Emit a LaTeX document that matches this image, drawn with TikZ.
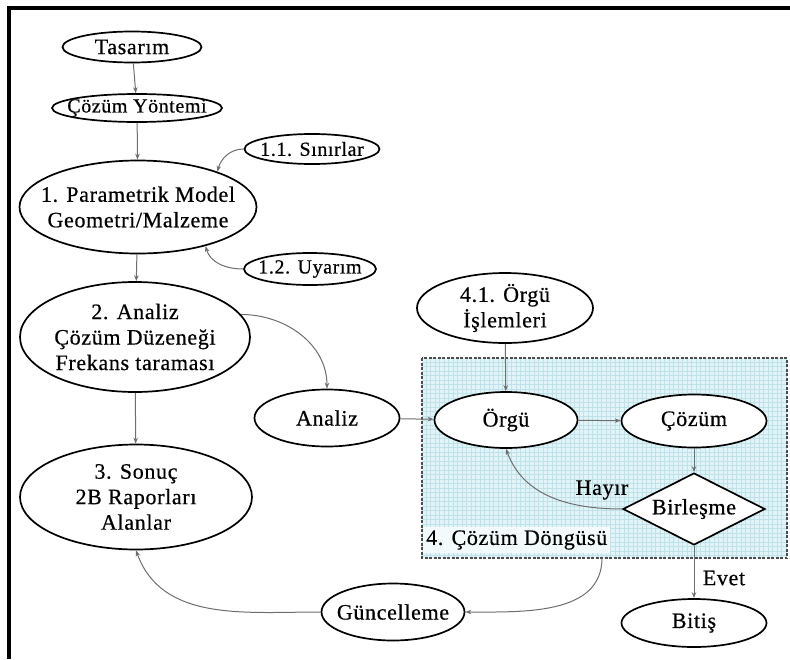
\documentclass[tikz,border=0pt]{standalone}
\usepackage{fontspec}
\setmainfont{Liberation Serif}[LetterSpace=3,FakeBold=0.5]
\usetikzlibrary{shapes.geometric,arrows.meta}
\definecolor{gridbg}{HTML}{E2F4F8}
\definecolor{gridln}{HTML}{BFE2EA}
\definecolor{connc}{HTML}{6E6E6E}
\definecolor{labelbg}{HTML}{F2FAFC}

\begin{document}
\begin{tikzpicture}[x=1pt,y=-1pt,
  txt/.style={font=\fontsize{22}{25.5}\selectfont},
  % negative inner sep keeps the oval at its given size
  oval/.style={ellipse,draw=black,line width=1.7pt,fill=white,inner xsep=-25pt,inner ysep=-12pt,align=center,txt},
  slimoval/.style={oval,font=\fontsize{20}{24}\selectfont},
  rhomb/.style={diamond,draw=black,line width=1.7pt,fill=white,inner sep=0pt,align=center,txt},
  conn/.style={draw=connc,line width=1pt,-{Stealth[length=6pt,width=4.5pt]}},
  lbl/.style={txt,inner sep=1pt}]
\useasboundingbox (0,0) rectangle (790,659);

% page frame: top and left rules
\draw[line width=4pt] (9,659) -- (9,8) -- (790,8);

% solution loop area with a fine grid
\fill[gridbg] (422,358) rectangle (787,558);
\foreach \gx in {426,430.5,...,786} \draw[gridln,line width=0.5pt] (\gx,358) -- (\gx,558);
\foreach \gy in {362,366.5,...,557} \draw[gridln,line width=0.5pt] (422,\gy) -- (787,\gy);
\draw[black!70,line width=1.2pt,dash pattern=on 3pt off 1.5pt] (422,358) rectangle (787,558);
\node[lbl,fill=labelbg,anchor=west,inner sep=3pt] (looplabel) at (423,540) {4. Çözüm Döngüsü};

% left column
\node[oval,minimum width=139pt,minimum height=31pt] (tasarim) at (132,47) {Tasarım};
\node[slimoval,minimum width=170pt,minimum height=28pt] (yontem) at (137,108) {Çözüm Yöntemi};
\node[oval,minimum width=237pt,minimum height=93pt] (param) at (138,207) {1. Parametrik Model\\Geometri/Malzeme};
\node[slimoval,minimum width=135pt,minimum height=30pt] (sinir) at (312,149) {1.1. Sınırlar};
\node[slimoval,minimum width=132pt,minimum height=32pt] (uyarim) at (310,269) {1.2. Uyarım};
\node[oval,minimum width=230pt,minimum height=110pt] (analiz2) at (135,337) {2. Analiz\\Çözüm Düzeneği\\Frekans taraması};
\node[oval,minimum width=232pt,minimum height=105pt] (sonuc) at (136,497) {3. Sonuç\\2B Raporları\\Alanlar};
\node[oval,minimum width=145pt,minimum height=57pt] (analiz) at (327,418) {Analiz};
\node[oval,minimum width=143pt,minimum height=57pt] (guncel) at (393,612) {Güncelleme};

% right part
\node[oval,minimum width=176pt,minimum height=70pt] (orguis) at (505,308) {4.1. Örgü\\İşlemleri};
\node[oval,minimum width=143pt,minimum height=56pt] (orgu) at (506,420) {Örgü};
\node[oval,minimum width=145pt,minimum height=53pt] (cozum) at (694,421) {Çözüm};
\node[rhomb,minimum width=142pt,minimum height=72pt,aspect=1.97] (birles) at (694,509) {Birleşme};
\node[oval,minimum width=145pt,minimum height=48pt] (bitis) at (694,623) {Bitiş};

% connectors
\draw[conn] (tasarim) -- (yontem);
\draw[conn] (yontem) -- (param);
\draw[conn] (sinir.west) to[out=180,in=75] (param.24);
\draw[conn] (uyarim.west) to[out=180,in=-75] (param.-30);
\draw[conn] (param) -- (analiz2);
\draw[conn] (analiz2.12) to[out=0,in=90] (analiz.north);
\draw[conn] (analiz2) -- (sonuc);
\draw[conn] (analiz) -- (orgu);
\draw[conn] (orguis) -- (orgu);
\draw[conn] (orgu) -- (cozum);
\draw[conn] (cozum) -- (birles);
\draw[conn] (birles.west) to[out=180,in=-70] (orgu.south);
\draw[conn] (birles) -- (bitis);
\coordinate (loopexit) at (602,558);
\draw[conn] (loopexit) to[out=-90,in=0] (guncel.east);
\draw[conn] (guncel.west) to[out=180,in=-70] (sonuc.south);

% branch labels
\node[lbl] (hayir) at (602,490) {Hayır};
\node[lbl] (evet) at (724,578) {Evet};
\end{tikzpicture}
\end{document}
